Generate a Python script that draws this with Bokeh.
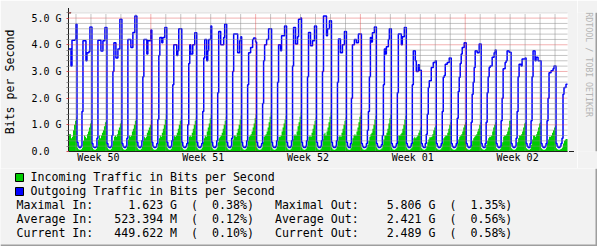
import math
import re
from bokeh.plotting import figure
from bokeh.layouts import column, row
from bokeh.models import Range1d, FixedTicker, Arrow, NormalHead
from bokeh.core.properties import value
from bokeh.embed import file_html
from bokeh.resources import INLINE

# ---------------- data (Gbit/s), 15 samples per day (96 min each) ----------------
# day 0 = Monday of Week 50; first day shown is Tuesday (day 1), starting at sample 7
first_day = 1
first_sample = 7

out_by_day = [
    [3.84, 3.84, 3.20, 4.17, 4.17, 4.17, 4.20, 4.77],
    [0.35, 0.20, 0.15, 0.15, 0.20, 1.50, 4.15, 4.15, 4.15, 3.40, 3.70, 3.70, 3.75, 4.67, 4.67],
    [0.30, 0.18, 0.15, 0.15, 0.18, 0.50, 4.17, 4.17, 4.17, 3.77, 3.77, 4.15, 4.15, 4.65, 4.65],
    [0.30, 0.18, 0.15, 0.15, 0.20, 0.60, 3.00, 4.08, 4.08, 3.50, 3.50, 3.84, 3.84, 4.96, 4.96],
    [0.30, 0.20, 0.15, 0.15, 0.20, 0.50, 4.20, 4.20, 4.20, 3.90, 3.90, 4.46, 4.46, 5.08, 5.08],
    [0.35, 0.20, 0.15, 0.15, 0.20, 0.40, 2.80, 4.20, 4.20, 4.20, 3.65, 4.15, 4.15, 4.15, 4.55],
    [0.35, 0.20, 0.15, 0.15, 0.18, 0.30, 1.20, 3.60, 4.27, 4.27, 4.08, 4.27, 4.27, 4.65, 4.65],
    [0.35, 0.20, 0.15, 0.15, 0.20, 0.40, 2.50, 4.00, 4.00, 4.00, 3.60, 3.78, 4.60, 4.60, 4.60],
    [0.35, 0.20, 0.15, 0.15, 0.20, 0.30, 1.00, 3.30, 4.00, 3.65, 3.65, 4.00, 4.00, 4.45, 4.45],
    [0.35, 0.20, 0.15, 0.15, 0.20, 0.30, 1.50, 3.50, 4.20, 4.20, 3.40, 3.78, 4.20, 4.20, 4.70],
    [0.35, 0.20, 0.15, 0.15, 0.20, 0.40, 2.20, 4.50, 4.50, 4.00, 4.00, 4.00, 4.27, 4.77, 4.77],
    [0.35, 0.20, 0.15, 0.15, 0.20, 0.50, 3.00, 4.40, 4.40, 4.40, 4.40, 3.70, 3.70, 4.15, 4.30],
    [0.35, 0.20, 0.15, 0.15, 0.20, 0.40, 2.50, 3.70, 3.70, 3.90, 3.90, 4.20, 4.25, 4.25, 4.10],
    [0.35, 0.20, 0.15, 0.15, 0.20, 0.30, 1.80, 3.40, 4.00, 4.00, 4.20, 4.20, 4.60, 4.60, 4.60],
    [0.35, 0.20, 0.15, 0.15, 0.20, 0.40, 2.60, 4.00, 4.00, 3.78, 4.34, 4.34, 4.34, 4.70, 4.70],
    [0.35, 0.20, 0.15, 0.15, 0.20, 0.40, 3.20, 4.65, 4.65, 4.03, 4.03, 4.30, 4.96, 4.96, 5.00],
    [0.35, 0.20, 0.15, 0.15, 0.20, 0.40, 2.80, 4.46, 4.46, 3.96, 3.96, 4.15, 4.15, 4.70, 4.70],
    [0.35, 0.20, 0.15, 0.15, 0.20, 0.40, 3.00, 5.08, 5.08, 5.08, 4.34, 4.60, 4.60, 4.90, 4.90],
    [0.35, 0.20, 0.15, 0.15, 0.20, 0.40, 2.60, 4.22, 4.22, 3.70, 3.70, 4.00, 4.00, 4.50, 4.50],
    [0.35, 0.20, 0.15, 0.15, 0.30, 2.00, 4.00, 4.00, 4.20, 4.20, 4.08, 4.08, 4.40, 4.40, 4.40],
    [0.30, 0.20, 0.15, 0.15, 0.18, 0.30, 0.80, 1.50, 2.80, 4.27, 4.10, 4.45, 4.45, 4.67, 4.67],
    [0.30, 0.20, 0.15, 0.15, 0.18, 0.25, 0.60, 2.50, 3.84, 3.65, 3.93, 3.93, 4.20, 4.60, 4.60],
    [0.30, 0.20, 0.15, 0.15, 0.20, 0.30, 2.20, 4.40, 4.40, 4.40, 4.00, 4.30, 4.30, 4.65, 4.65],
    [0.30, 0.20, 0.15, 0.15, 0.20, 0.30, 2.50, 3.78, 3.78, 3.40, 3.00, 3.00, 3.25, 3.05, 3.05],
    [0.30, 0.20, 0.15, 0.15, 0.30, 0.65, 1.40, 2.40, 2.65, 2.65, 3.15, 3.15, 3.34, 3.34, 3.40],
    [0.30, 0.20, 0.15, 0.15, 0.20, 0.30, 1.50, 2.78, 2.85, 3.27, 3.27, 3.34, 3.34, 3.50, 3.50],
    [0.30, 0.20, 0.15, 0.15, 0.20, 0.30, 1.25, 2.25, 2.78, 3.30, 3.65, 3.90, 3.90, 4.08, 4.08],
    [0.30, 0.20, 0.15, 0.15, 0.20, 1.10, 2.15, 2.60, 3.15, 3.78, 3.78, 3.70, 3.70, 4.03, 4.03],
    [0.30, 0.20, 0.15, 0.15, 0.30, 1.10, 2.20, 2.80, 3.15, 3.20, 3.20, 3.53, 3.53, 3.70, 3.80],
    [0.30, 0.20, 0.15, 0.15, 0.20, 1.15, 2.00, 3.10, 3.10, 3.34, 3.40, 3.78, 3.78, 3.72, 3.72],
    [0.30, 0.20, 0.15, 0.15, 0.20, 0.50, 1.50, 2.80, 3.27, 3.27, 3.20, 3.47, 3.47, 3.47, 3.50],
    [0.30, 0.20, 0.15, 0.15, 0.30, 1.15, 2.80, 3.78, 3.78, 3.40, 3.53, 3.53, 3.40, 3.40, 3.40],
    [0.30, 0.20, 0.15, 0.15, 0.20, 0.30, 1.15, 2.00, 2.95, 2.95, 3.03, 3.03, 3.10, 3.20, 3.20],
    [0.30, 0.20, 0.15, 0.15, 0.20, 0.30, 0.50, 2.15, 2.40, 2.40, 2.52, 2.52, 2.52],
]

in_by_day = [
    [0.65, 0.65, 0.50, 0.55, 0.80, 1.00, 1.15, 1.27],
    [0.15, 0.08, 0.07, 0.07, 0.08, 0.15, 0.40, 0.60, 0.55, 0.50, 0.65, 0.75, 0.90, 1.05, 1.15],
    [0.15, 0.08, 0.07, 0.07, 0.10, 0.20, 0.45, 0.60, 0.50, 0.60, 0.70, 0.80, 0.95, 1.10, 1.15],
    [0.15, 0.08, 0.07, 0.07, 0.10, 0.20, 0.40, 0.55, 0.60, 0.55, 0.65, 0.80, 0.90, 1.05, 1.15],
    [0.15, 0.08, 0.07, 0.07, 0.10, 0.20, 0.45, 0.60, 0.55, 0.60, 0.75, 0.85, 1.00, 1.15, 1.25],
    [0.15, 0.08, 0.07, 0.07, 0.10, 0.20, 0.40, 0.55, 0.50, 0.55, 0.70, 0.80, 0.90, 1.00, 1.15],
    [0.15, 0.08, 0.07, 0.07, 0.08, 0.15, 0.30, 0.50, 0.60, 0.55, 0.70, 0.85, 1.00, 1.20, 1.40],
    [0.15, 0.08, 0.07, 0.07, 0.10, 0.20, 0.45, 0.60, 0.55, 0.60, 0.70, 0.85, 1.00, 1.15, 1.27],
    [0.15, 0.08, 0.07, 0.07, 0.08, 0.15, 0.35, 0.55, 0.60, 0.55, 0.70, 0.85, 1.00, 1.15, 1.27],
    [0.15, 0.08, 0.07, 0.07, 0.08, 0.15, 0.35, 0.50, 0.60, 0.55, 0.75, 0.90, 1.05, 1.25, 1.40],
    [0.15, 0.08, 0.07, 0.07, 0.08, 0.15, 0.35, 0.50, 0.55, 0.60, 0.70, 0.85, 1.00, 1.15, 1.30],
    [0.15, 0.08, 0.07, 0.07, 0.10, 0.20, 0.45, 0.60, 0.60, 0.55, 0.70, 0.85, 1.00, 1.20, 1.35],
    [0.15, 0.08, 0.07, 0.07, 0.10, 0.20, 0.40, 0.55, 0.60, 0.65, 0.75, 0.90, 1.05, 1.25, 1.40],
    [0.15, 0.08, 0.07, 0.07, 0.08, 0.15, 0.35, 0.55, 0.60, 0.65, 0.75, 0.90, 1.10, 1.30, 1.46],
    [0.15, 0.08, 0.07, 0.07, 0.10, 0.20, 0.40, 0.55, 0.55, 0.60, 0.75, 0.90, 1.05, 1.20, 1.34],
    [0.15, 0.08, 0.07, 0.07, 0.10, 0.20, 0.45, 0.60, 0.65, 0.60, 0.75, 0.95, 1.10, 1.30, 1.46],
    [0.15, 0.08, 0.07, 0.07, 0.10, 0.20, 0.40, 0.55, 0.60, 0.55, 0.70, 0.85, 1.00, 1.15, 1.27],
    [0.15, 0.08, 0.07, 0.07, 0.10, 0.20, 0.45, 0.65, 0.70, 0.60, 0.75, 0.90, 1.10, 1.30, 1.46],
    [0.15, 0.08, 0.07, 0.07, 0.10, 0.20, 0.40, 0.55, 0.60, 0.55, 0.70, 0.85, 1.00, 1.15, 1.27],
    [0.15, 0.08, 0.07, 0.07, 0.12, 0.30, 0.50, 0.60, 0.65, 0.60, 0.75, 0.90, 1.10, 1.30, 1.46],
    [0.15, 0.08, 0.07, 0.07, 0.08, 0.15, 0.25, 0.40, 0.55, 0.65, 0.70, 0.85, 1.00, 1.20, 1.34],
    [0.15, 0.08, 0.07, 0.07, 0.08, 0.12, 0.25, 0.45, 0.60, 0.60, 0.70, 0.85, 1.05, 1.25, 1.40],
    [0.15, 0.08, 0.07, 0.07, 0.10, 0.15, 0.40, 0.60, 0.60, 0.65, 0.70, 0.85, 1.00, 1.20, 1.34],
    [0.15, 0.08, 0.07, 0.07, 0.10, 0.15, 0.35, 0.50, 0.55, 0.50, 0.55, 0.60, 0.70, 0.80, 0.90],
    [0.12, 0.08, 0.07, 0.07, 0.10, 0.20, 0.35, 0.45, 0.53, 0.53, 0.55, 0.65, 0.80, 0.90, 0.97],
    [0.12, 0.08, 0.07, 0.07, 0.08, 0.15, 0.30, 0.50, 0.55, 0.60, 0.60, 0.70, 0.85, 1.00, 1.10],
    [0.12, 0.08, 0.07, 0.07, 0.08, 0.15, 0.30, 0.45, 0.55, 0.60, 0.65, 0.75, 0.90, 1.00, 1.10],
    [0.12, 0.08, 0.07, 0.07, 0.10, 0.25, 0.40, 0.50, 0.55, 0.60, 0.65, 0.75, 0.85, 1.00, 1.10],
    [0.12, 0.08, 0.07, 0.07, 0.10, 0.25, 0.40, 0.50, 0.55, 0.55, 0.60, 0.75, 0.90, 1.00, 1.10],
    [0.12, 0.08, 0.07, 0.07, 0.10, 0.25, 0.35, 0.55, 0.60, 0.60, 0.65, 0.75, 0.90, 1.15, 1.15],
    [0.12, 0.08, 0.07, 0.07, 0.08, 0.15, 0.35, 0.50, 0.60, 0.60, 0.65, 0.75, 0.90, 1.05, 1.10],
    [0.12, 0.08, 0.07, 0.07, 0.10, 0.25, 0.45, 0.60, 0.60, 0.55, 0.65, 0.75, 0.90, 1.05, 1.10],
    [0.12, 0.08, 0.07, 0.07, 0.08, 0.15, 0.30, 0.45, 0.55, 0.55, 0.60, 0.70, 0.80, 0.90, 0.97],
    [0.12, 0.08, 0.07, 0.07, 0.08, 0.10, 0.15, 0.30, 0.40, 0.45, 0.47, 0.47, 0.45],
]

week_labels = ["Week 50", "Week 51", "Week 52", "Week 01", "Week 02"]
week_centers = [3.5, 10.5, 17.5, 24.5, 31.5]
week_starts = [7, 14, 21, 28]
y_ticks = [0, 1, 2, 3, 4, 5]
y_tick_labels = ["0.0\u00a0\u00a0", "1.0 G", "2.0 G", "3.0 G", "4.0 G", "5.0 G"]

legend_texts = ["Incoming Traffic in Bits per Second", "Outgoing Traffic in Bits per Second"]
legend_colors = ["#00CC00", "#0000FF"]
stat_lines = [
    "Maximal In:     1.623 G  (  0.38%)   Maximal Out:    5.806 G  (  1.35%)",
    "Average In:   523.394 M  (  0.12%)   Average Out:    2.421 G  (  0.56%)",
    "Current In:   449.622 M  (  0.10%)   Current Out:    2.489 G  (  0.58%)",
]
watermark = "RRDTOOL / TOBI OETIKER"

# ---------------- build series ----------------
# each sample is plotted at the end of its 96-minute interval (as RRDtool does)
t, vout, vin = [], [], []
for k, (o, g) in enumerate(zip(out_by_day, in_by_day)):
    d = first_day + k
    s0 = first_sample if k == 0 else 0
    for i, (a, b) in enumerate(zip(o, g)):
        t.append(d + (s0 + i + 1) / 15.0)
        vout.append(a)
        vin.append(b)
t.append(t[-1] + 1 / 15.0); vout.append(vout[-1]); vin.append(vin[-1])

# ---------------- geometry ----------------
W, H = 597, 246
MAIN_W, MAIN_H = 577, 168
FL, FR, FT, FB = 67, 567, 12, 151       # frame edges in canvas px
PX_PER_DAY = 15.0
PX_PER_G = 26.68
X0 = 1.5
X1 = X0 + (FR - FL) / PX_PER_DAY
YMAX = (FB - FT) / PX_PER_G

BACK = "#F2F2F2"
MONO = "DejaVu Sans Mono"
CHAR_W = 11.6 * 1233 / 2048             # advance of DejaVu Sans Mono at 11.6px
GRID_GRAY = "#8A8A8A"
GRID_RED = "#E04848"

p = figure(width=MAIN_W, height=MAIN_H, x_range=Range1d(X0, X1), y_range=Range1d(0, YMAX),
           output_backend="svg", toolbar_location=None,
           min_border_left=FL, min_border_right=MAIN_W - FR, min_border_top=FT,
           min_border_bottom=MAIN_H - FB,
           background_fill_color="white", border_fill_color=BACK, outline_line_color=None)
p.xgrid.visible = False
p.ygrid.visible = False

# data (drawn first; RRDtool paints its grid over the graph)
p.varea_step(x=t, y1=[0] * len(t), y2=vin, step_mode="after", fill_color="#00CC00", fill_alpha=1)
p.step(x=t, y=vout, mode="after", line_color="#0000FF", line_width=1.5)

# horizontal dotted grid lines
h_minor = [round(0.2 * k, 1) for k in range(1, 27) if k % 5 != 0]
h_major = [1, 2, 3, 4, 5]
p.segment(x0=[X0] * len(h_minor), y0=h_minor, x1=[X1] * len(h_minor), y1=h_minor,
          line_color=GRID_GRAY, line_dash="1 1", line_width=1)
p.segment(x0=[X0] * len(h_major), y0=h_major, x1=[X1] * len(h_major), y1=h_major,
          line_color=GRID_RED, line_alpha=0.85, line_dash="1 1", line_width=1)

# vertical dotted grid lines, drawn as 1px dots (day lines gray, week lines red)
day_lines = [d for d in range(2, 35) if d % 7 != 0]
half = 0.5 / PX_PER_DAY
n_dots = int((FB - FT) // 2)
def dots(xs):
    L, R, B, T = [], [], [], []
    for xv in xs:
        for k in range(n_dots):
            L.append(xv - half); R.append(xv + half)
            B.append(2 * k / PX_PER_G); T.append((2 * k + 1) / PX_PER_G)
    return L, R, B, T
gl, gr, gb, gt = dots(day_lines)
p.quad(left=gl, right=gr, bottom=gb, top=gt, fill_color=GRID_GRAY, line_color=None)
rl, rr, rb, rt = dots(week_starts)
p.quad(left=rl, right=rr, bottom=rb, top=rt, fill_color=GRID_RED, fill_alpha=0.85, line_color=None)

# axes
xa = p.xaxis[0]
xa.ticker = FixedTicker(ticks=week_centers)
xa.major_label_overrides = {c: l for c, l in zip(week_centers, week_labels)}
xa.major_tick_out = 0
xa.major_tick_in = 0
xa.minor_tick_out = 0
xa.minor_tick_in = 0
xa.major_label_standoff = 0
ya = p.yaxis[0]
ya.ticker = FixedTicker(ticks=y_ticks, minor_ticks=h_minor)
ya.major_label_overrides = {v: l for v, l in zip(y_ticks, y_tick_labels)}
ya.major_tick_out = 2
ya.major_tick_in = 0
ya.major_tick_line_color = "#DE4F4F"
ya.minor_tick_out = 2
ya.minor_tick_in = 0
ya.minor_tick_line_color = "#8F8F8F"
ya.major_label_standoff = 5
ya.axis_label = "Bits per Second"
ya.axis_label_text_font = MONO
ya.axis_label_text_font_size = "11.6px"
ya.axis_label_text_font_style = "normal"
ya.axis_label_text_color = "black"
ya.axis_label_standoff = 11
for ax in (xa, ya):
    ax.axis_line_color = "#1F1F1F"
    ax.major_label_text_font = MONO
    ax.major_label_text_font_size = "10px"
    ax.major_label_text_color = "black"

# axis arrows
p.add_layout(Arrow(x_start=X0, y_start=YMAX, x_end=X0, y_end=YMAX + 4.5 / PX_PER_G,
                   line_color="#1F1F1F", line_width=1,
                   end=NormalHead(size=5, fill_color="#801F1F", line_color="#801F1F")))
p.add_layout(Arrow(x_start=X1, y_start=0, x_end=X1 + 6.5 / PX_PER_DAY, y_end=0,
                   line_color="#1F1F1F", line_width=1,
                   end=NormalHead(size=5, fill_color="#801F1F", line_color="#801F1F")))

# ---------------- watermark strip (right) ----------------
wm = figure(width=W - MAIN_W, height=MAIN_H, x_range=Range1d(0, W - MAIN_W),
            y_range=Range1d(MAIN_H, 0), output_backend="svg", toolbar_location=None,
            x_axis_type=None, y_axis_type=None, min_border=0,
            min_border_left=0, min_border_right=0, min_border_top=0, min_border_bottom=0,
            background_fill_color=BACK, border_fill_color=BACK, outline_line_color=None)
wm.text(x=[11.5], y=[60], text=[watermark], angle=-math.pi / 2,
        text_align="center", text_baseline="middle",
        text_font=value(MONO), text_font_size=value("8.3px"), text_color="#B4B4B4")
wm.quad(left=[W - MAIN_W - 2], right=[W - MAIN_W], top=[0], bottom=[MAIN_H],
        fill_color="#9E9E9E", line_color=None)

# ---------------- legend strip (bottom) ----------------
LH = H - MAIN_H
lg = figure(width=W, height=LH, x_range=Range1d(0, W), y_range=Range1d(LH, 0),
            output_backend="svg", toolbar_location=None,
            x_axis_type=None, y_axis_type=None, min_border=0,
            min_border_left=0, min_border_right=0, min_border_top=0, min_border_bottom=0,
            background_fill_color=BACK, border_fill_color=BACK, outline_line_color=None)
leg_y = [176 - MAIN_H, 190 - MAIN_H]
lg.rect(x=[19, 19], y=[yy + 1 for yy in leg_y], width=8, height=8,
        fill_color=legend_colors, line_color="black", line_width=1)
lg.text(x=[16 + 2 * CHAR_W] * 2, y=leg_y, text=legend_texts, text_baseline="middle",
        text_font=value(MONO), text_font_size=value("11.6px"), text_color="black")

# statistics lines: each run of text placed at its monospace column
seg_x, seg_y, seg_t = [], [], []
for r, line in enumerate(stat_lines):
    yy = 204.3 + 13.9 * r - MAIN_H
    for m in re.finditer(r"\S+(?: \S+)*", line):
        seg_x.append(16 + m.start() * CHAR_W)
        seg_y.append(yy)
        seg_t.append(m.group())
lg.text(x=seg_x, y=seg_y, text=seg_t, text_baseline="middle",
        text_font=value(MONO), text_font_size=value("11.6px"), text_color="black")
lg.quad(left=[0], right=[W], top=[LH - 2], bottom=[LH], fill_color="#9E9E9E", line_color=None)
lg.quad(left=[W - 2], right=[W], top=[0], bottom=[LH], fill_color="#9E9E9E", line_color=None)

layout = column(row(p, wm, spacing=0), lg, spacing=0)
open("out.html", "w").write(file_html(layout, INLINE))
